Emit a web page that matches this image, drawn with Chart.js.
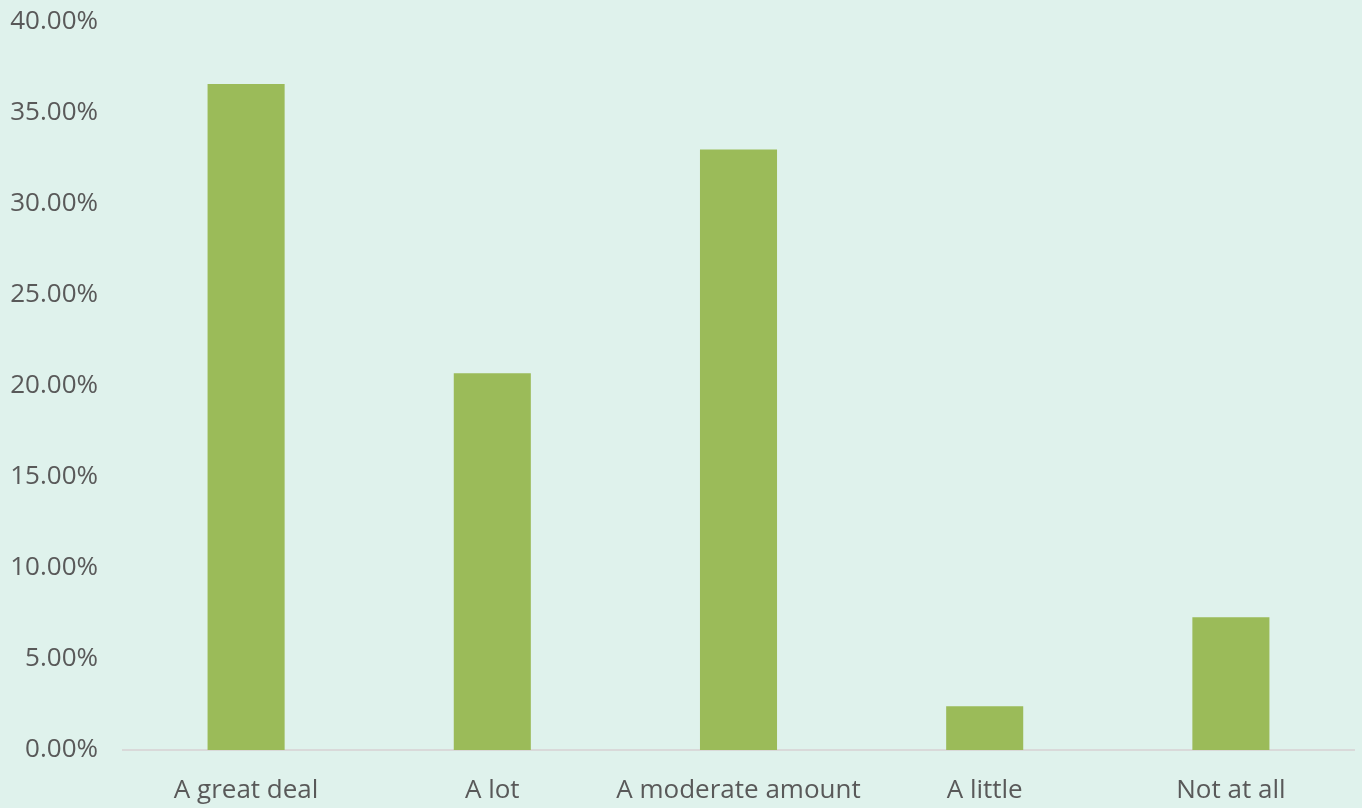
<!DOCTYPE html>
<html>
<head>
<meta charset="utf-8">
<script src="https://cdn.jsdelivr.net/npm/chart.js@4"></script>
<style>
  html, body { margin: 0; padding: 0; background: #dff2ec; }
  #wrap { width: 1362px; height: 808px; }
</style>
</head>
<body>
<div id="wrap"><canvas id="barChart" width="1362" height="808"></canvas></div>
<script>
const categories = ["A great deal", "A lot", "A moderate amount", "A little", "Not at all"];
const shares = [36.6, 20.7, 33.0, 2.4, 7.3];
const yTicks = [0, 5, 10, 15, 20, 25, 30, 35, 40];

const textColor = "#595959";
const labelFont = { family: "'Open Sans', sans-serif", size: 26 };

new Chart("barChart", {
  type: "bar",
  data: {
    labels: categories,
    datasets: [
      {
        data: shares,
        backgroundColor: "#9bbb59",
        borderWidth: 0,
        barPercentage: 1,
        categoryPercentage: 0.313,
      },
    ],
  },
  options: {
    responsive: false,
    animation: false,
    layout: { padding: { top: 22, right: 8, left: 0, bottom: 0 } },
    plugins: {
      legend: { display: false },
      tooltip: { enabled: false },
    },
    scales: {
      x: {
        afterFit: (axis) => {
          axis.height = 58;
        },
        grid: { display: false },
        border: { display: true, color: "#d9d9d9", width: 2 },
        ticks: {
          color: textColor,
          font: labelFont,
          padding: 17,
          maxRotation: 0,
          autoSkip: false,
        },
      },
      y: {
        min: 0,
        max: 40,
        afterFit: (axis) => {
          axis.width = 123;
          axis.paddingTop = 0;
          axis.paddingBottom = 0;
        },
        afterBuildTicks: (axis) => {
          axis.ticks = yTicks.map((v) => ({ value: v }));
        },
        grid: { display: false },
        border: { display: false },
        ticks: {
          color: textColor,
          font: labelFont,
          padding: 17,
          callback: (v) => v.toFixed(2) + "%",
        },
      },
    },
  },
});
</script>
</body>
</html>
